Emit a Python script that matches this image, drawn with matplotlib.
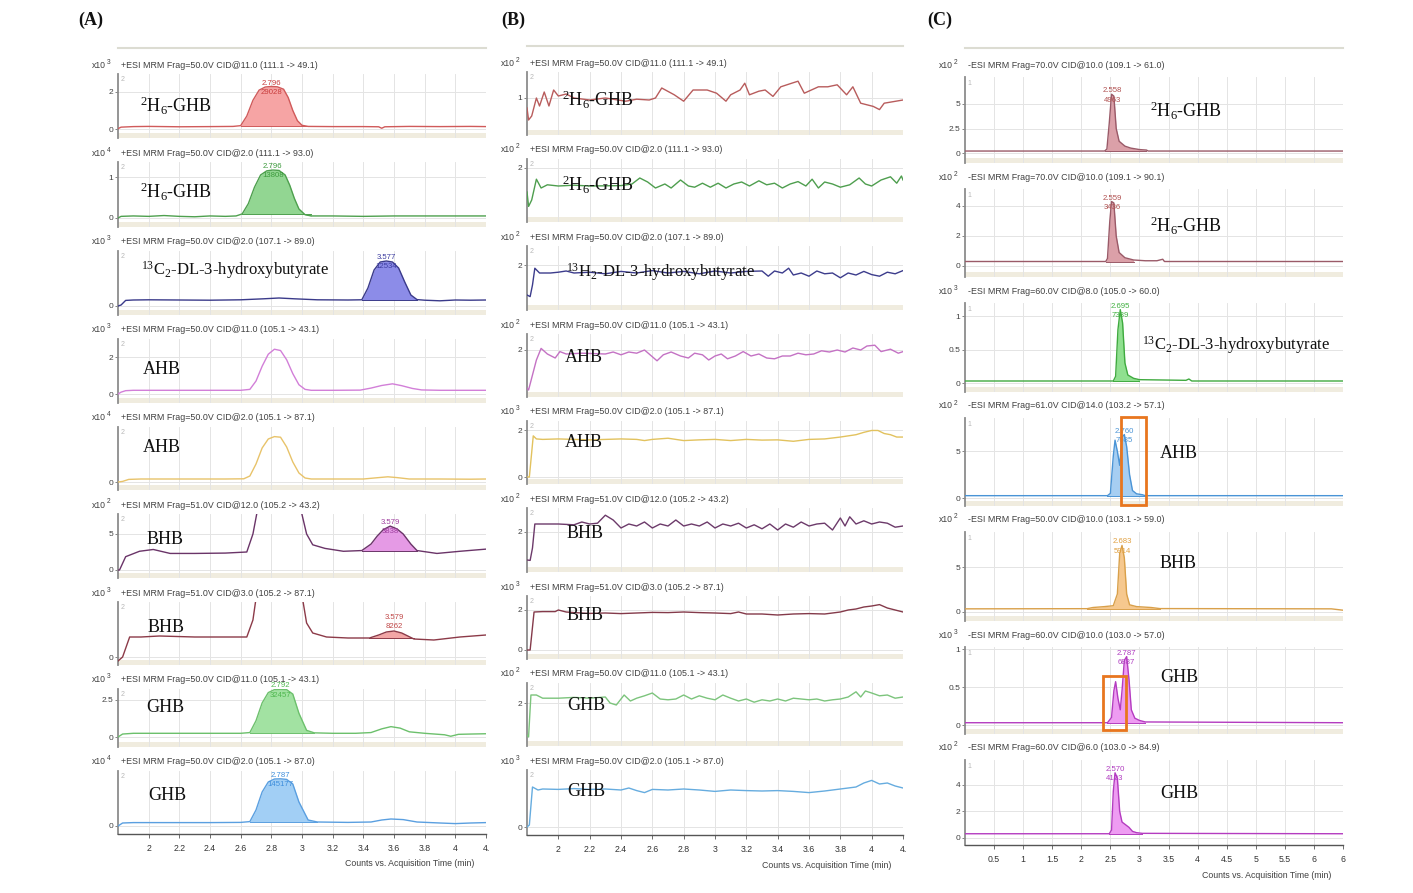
import matplotlib
matplotlib.use('Agg')
import matplotlib.pyplot as plt
from matplotlib.patches import Rectangle
from matplotlib.lines import Line2D
import numpy as np

plt.rcParams['mathtext.fontset'] = 'custom'
plt.rcParams['mathtext.rm'] = 'Liberation Serif'
plt.rcParams['mathtext.it'] = 'Liberation Serif:italic'
plt.rcParams['mathtext.bf'] = 'Liberation Serif:bold'

# ---------------- data ----------------
D6GHB = r'$^{2}$H$_{6}$-GHB'
C13HB = r'$^{13}$C$_{2}$-DL-3-hydroxybutyrate'
H13HB = r'$^{13}$H$_{2}$-DL-3-hydroxybutyrate'

pos_headers = ['+ESI MRM Frag=50.0V CID@11.0 (111.1 -> 49.1)',
               '+ESI MRM Frag=50.0V CID@2.0 (111.1 -> 93.0)',
               '+ESI MRM Frag=50.0V CID@2.0 (107.1 -> 89.0)',
               '+ESI MRM Frag=50.0V CID@11.0 (105.1 -> 43.1)',
               '+ESI MRM Frag=50.0V CID@2.0 (105.1 -> 87.1)',
               '+ESI MRM Frag=51.0V CID@12.0 (105.2 -> 43.2)',
               '+ESI MRM Frag=51.0V CID@3.0 (105.2 -> 87.1)',
               '+ESI MRM Frag=50.0V CID@11.0 (105.1 -> 43.1)',
               '+ESI MRM Frag=50.0V CID@2.0 (105.1 -> 87.0)']
neg_headers = ['-ESI MRM Frag=70.0V CID@10.0 (109.1 -> 61.0)',
               '-ESI MRM Frag=70.0V CID@10.0 (109.1 -> 90.1)',
               '-ESI MRM Frag=60.0V CID@8.0 (105.0 -> 60.0)',
               '-ESI MRM Frag=61.0V CID@14.0 (103.2 -> 57.1)',
               '-ESI MRM Frag=50.0V CID@10.0 (103.1 -> 59.0)',
               '-ESI MRM Frag=60.0V CID@10.0 (103.0 -> 57.0)',
               '-ESI MRM Frag=60.0V CID@6.0 (103.0 -> 84.9)']

a_exp = [3, 4, 3, 3, 4, 2, 3, 3, 4]
b_exp = [2, 2, 2, 2, 3, 2, 3, 2, 3]
c_exp = [2, 2, 3, 2, 2, 3, 2]

a_names = [D6GHB, D6GHB, C13HB, 'AHB', 'AHB', 'BHB', 'BHB', 'GHB', 'GHB']
b_names = [D6GHB, D6GHB, H13HB, 'AHB', 'AHB', 'BHB', 'BHB', 'GHB', 'GHB']
c_names = [D6GHB, D6GHB, C13HB, 'AHB', 'BHB', 'GHB', 'GHB']

# (time min, counts in units of the row's x10^n)
a1 = [(1.80,0.02),(1.82,0.10),(1.90,0.13),(2.00,0.14),(2.20,0.12),(2.40,0.13),(2.55,0.14),(2.60,0.18),(2.64,0.70),(2.68,1.55),(2.72,2.10),(2.76,2.27),(2.80,2.30),(2.84,2.28),(2.88,2.15),(2.91,1.70),(2.94,1.00),(2.97,0.45),(3.00,0.20),(3.04,0.14),(3.20,0.13),(3.40,0.13),(3.50,0.12),(3.52,0.04),(3.54,0.12),(3.70,0.14),(3.90,0.13),(4.10,0.14),(4.20,0.13)]
a2 = [(1.80,0.00),(1.82,0.04),(1.90,0.05),(2.00,0.04),(2.10,0.06),(2.20,0.04),(2.30,0.03),(2.40,0.05),(2.50,0.04),(2.57,0.05),(2.61,0.10),(2.65,0.35),(2.69,0.75),(2.73,1.05),(2.77,1.15),(2.81,1.17),(2.85,1.16),(2.89,1.05),(2.92,0.80),(2.95,0.48),(2.98,0.22),(3.02,0.08),(3.06,0.05),(3.20,0.05),(3.40,0.04),(3.60,0.05),(3.80,0.05),(4.00,0.05),(4.20,0.05)]
a3 = [(1.80,0.00),(1.82,0.05),(1.85,0.28),(1.90,0.30),(2.00,0.31),(2.20,0.30),(2.40,0.29),(2.60,0.31),(2.75,0.36),(2.85,0.40),(2.95,0.36),(3.10,0.31),(3.30,0.30),(3.39,0.31),(3.43,0.90),(3.47,1.80),(3.51,2.20),(3.55,2.25),(3.59,2.20),(3.63,1.90),(3.67,1.20),(3.71,0.55),(3.75,0.32),(3.80,0.29),(3.90,0.26),(4.00,0.30),(4.10,0.29),(4.20,0.30)]
a4 = [(1.80,0.00),(1.82,0.10),(1.85,0.18),(1.90,0.20),(2.00,0.20),(2.20,0.20),(2.40,0.20),(2.60,0.20),(2.66,0.25),(2.70,0.70),(2.74,1.50),(2.78,2.15),(2.82,2.42),(2.86,2.35),(2.90,1.85),(2.94,1.10),(2.98,0.50),(3.02,0.25),(3.06,0.20),(3.20,0.20),(3.38,0.21),(3.45,0.32),(3.52,0.46),(3.59,0.55),(3.65,0.45),(3.72,0.30),(3.78,0.22),(3.90,0.20),(4.00,0.20),(4.10,0.20),(4.20,0.20)]
a5 = [(1.80,0.00),(1.83,0.03),(1.87,0.13),(1.95,0.15),(2.10,0.15),(2.30,0.15),(2.50,0.15),(2.62,0.16),(2.66,0.30),(2.70,0.90),(2.74,1.70),(2.78,2.15),(2.82,2.27),(2.86,2.24),(2.90,1.75),(2.94,1.00),(2.98,0.45),(3.02,0.20),(3.06,0.15),(3.20,0.15),(3.40,0.15),(3.50,0.22),(3.56,0.26),(3.62,0.22),(3.70,0.15),(3.90,0.15),(4.10,0.14),(4.20,0.15)]
a6 = [(1.80,0.00),(1.81,0.00),(1.85,1.85),(1.94,2.60),(2.03,2.85),(2.14,2.30),(2.30,2.30),(2.50,2.35),(2.64,2.50),(2.68,5.00),(2.72,9.50),(2.80,40.0),(2.90,40.0),(2.98,9.50),(3.03,5.00),(3.07,3.50),(3.15,3.00),(3.27,2.60),(3.39,2.70),(3.45,3.60),(3.49,4.70),(3.53,5.60),(3.575,6.10),(3.62,5.70),(3.66,5.00),(3.71,3.60),(3.75,2.70),(3.88,2.30),(4.03,2.60),(4.20,2.90)]
a7 = [(1.80,-0.40),(1.83,0.00),(1.876,2.00),(1.95,2.00),(2.07,2.10),(2.30,2.00),(2.50,2.00),(2.64,2.00),(2.68,3.70),(2.72,8.00),(2.80,30.0),(2.90,30.0),(2.98,8.00),(3.03,3.40),(3.07,2.40),(3.16,2.00),(3.30,1.90),(3.44,1.90),(3.50,2.20),(3.55,2.50),(3.60,2.60),(3.65,2.40),(3.73,1.80),(3.86,1.70),(4.03,2.00),(4.20,2.20)]
a8 = [(1.80,0.00),(1.83,0.20),(1.90,0.25),(2.00,0.25),(2.20,0.25),(2.40,0.25),(2.60,0.25),(2.66,0.30),(2.70,1.10),(2.74,2.30),(2.78,3.00),(2.82,3.20),(2.86,3.22),(2.90,3.20),(2.94,2.90),(2.98,1.60),(3.03,0.45),(3.08,0.28),(3.20,0.25),(3.35,0.25),(3.45,0.30),(3.52,0.55),(3.58,0.70),(3.64,0.60),(3.70,0.35),(3.80,0.25),(3.93,0.15),(3.97,0.05),(4.02,0.18),(4.10,0.20),(4.20,0.22)]
a9 = [(1.80,0.00),(1.83,0.15),(1.90,0.17),(2.00,0.17),(2.20,0.17),(2.40,0.17),(2.60,0.18),(2.66,0.22),(2.70,0.80),(2.74,1.70),(2.78,2.20),(2.82,2.35),(2.86,2.36),(2.90,2.33),(2.94,2.10),(2.98,1.20),(3.04,0.30),(3.10,0.20),(3.30,0.18),(3.45,0.20),(3.52,0.30),(3.58,0.35),(3.66,0.32),(3.75,0.20),(3.90,0.15),(4.00,0.12),(4.10,0.15),(4.20,0.17)]

b1 = [(1.80,0.75),(1.81,0.45),(1.83,0.55),(1.86,1.00),(1.88,0.80),(1.91,1.15),(1.94,0.80),(1.97,1.20),(2.00,1.05),(2.05,1.10),(2.10,1.00),(2.20,0.95),(2.30,1.00),(2.43,0.92),(2.50,0.97),(2.58,0.95),(2.62,1.00),(2.66,1.25),(2.74,1.08),(2.80,0.92),(2.86,1.20),(2.95,1.20),(3.01,1.12),(3.07,0.92),(3.10,1.08),(3.16,1.20),(3.19,1.37),(3.22,1.08),(3.28,1.17),(3.32,1.20),(3.37,1.04),(3.42,1.28),(3.49,1.37),(3.53,1.42),(3.57,1.12),(3.66,1.28),(3.72,1.28),(3.78,1.33),(3.84,1.08),(3.88,1.28),(3.93,0.87),(3.97,0.83),(4.01,0.79),(4.05,0.71),(4.08,0.87),(4.20,0.95)]
b2 = [(1.80,1.40),(1.81,1.04),(1.83,1.20),(1.86,1.72),(1.89,1.50),(1.93,1.58),(2.00,1.55),(2.10,1.57),(2.20,1.55),(2.40,1.56),(2.47,1.60),(2.52,1.75),(2.57,1.65),(2.62,1.50),(2.68,1.60),(2.72,1.50),(2.78,1.70),(2.83,1.55),(2.87,1.52),(2.92,1.62),(2.97,1.52),(3.02,1.62),(3.07,1.50),(3.12,1.60),(3.17,1.65),(3.22,1.55),(3.28,1.68),(3.33,1.58),(3.38,1.62),(3.43,1.50),(3.48,1.60),(3.53,1.66),(3.58,1.55),(3.62,1.72),(3.66,1.50),(3.70,1.65),(3.75,1.60),(3.80,1.52),(3.86,1.58),(3.92,1.75),(3.96,1.60),(4.00,1.55),(4.06,1.70),(4.12,1.78),(4.16,1.62),(4.19,1.80),(4.20,1.70)]
b3 = [(1.80,1.25),(1.82,1.21),(1.835,1.50),(1.85,1.92),(1.88,1.80),(1.95,1.80),(2.00,1.82),(2.05,1.85),(2.10,1.80),(2.20,1.82),(2.30,1.78),(2.40,1.84),(2.50,1.80),(2.60,1.86),(2.70,1.80),(2.80,1.84),(2.90,1.78),(3.00,1.85),(3.10,1.80),(3.20,1.84),(3.30,1.85),(3.34,1.72),(3.38,1.85),(3.43,1.80),(3.47,1.92),(3.50,1.75),(3.55,1.80),(3.60,1.72),(3.65,1.85),(3.70,1.78),(3.75,1.80),(3.80,1.68),(3.85,1.80),(3.90,1.75),(3.95,1.84),(4.00,1.76),(4.05,1.72),(4.10,1.82),(4.15,1.78),(4.20,1.86)]
b4 = [(1.80,1.05),(1.81,1.00),(1.86,1.75),(1.89,2.04),(1.93,1.90),(1.98,1.80),(2.01,1.96),(2.05,1.90),(2.15,1.92),(2.30,1.90),(2.35,1.95),(2.40,1.88),(2.45,1.95),(2.50,1.92),(2.55,2.00),(2.63,1.73),(2.67,1.88),(2.72,1.95),(2.78,1.85),(2.83,1.80),(2.87,1.92),(2.92,1.88),(2.96,1.75),(3.00,1.85),(3.04,1.90),(3.08,1.78),(3.13,1.85),(3.18,1.96),(3.23,1.85),(3.28,1.90),(3.33,1.80),(3.38,1.78),(3.43,1.85),(3.48,1.85),(3.53,1.92),(3.58,1.88),(3.63,1.90),(3.68,1.98),(3.73,1.95),(3.78,2.00),(3.83,1.95),(3.88,2.05),(3.93,2.00),(3.97,2.10),(4.02,2.12),(4.06,1.96),(4.12,2.02),(4.17,1.92),(4.20,1.96)]
b5 = [(1.80,0.00),(1.815,0.00),(1.84,1.75),(1.86,1.62),(1.90,1.60),(2.00,1.62),(2.10,1.60),(2.20,1.58),(2.30,1.60),(2.40,1.62),(2.50,1.60),(2.55,1.55),(2.60,1.60),(2.70,1.65),(2.75,1.60),(2.80,1.55),(2.90,1.58),(3.00,1.60),(3.10,1.55),(3.20,1.60),(3.30,1.57),(3.40,1.58),(3.50,1.52),(3.60,1.60),(3.70,1.62),(3.80,1.70),(3.90,1.80),(3.95,1.90),(4.00,1.98),(4.04,1.98),(4.08,1.85),(4.12,1.80),(4.16,1.70),(4.20,1.70)]
b6 = [(1.80,1.30),(1.82,1.29),(1.835,1.60),(1.85,2.20),(1.90,2.20),(2.00,2.20),(2.10,2.18),(2.15,2.25),(2.20,2.20),(2.25,2.22),(2.30,2.42),(2.35,2.30),(2.40,2.10),(2.45,2.20),(2.50,2.15),(2.55,2.25),(2.60,2.10),(2.65,2.20),(2.70,2.15),(2.75,2.30),(2.80,2.15),(2.85,2.20),(2.90,2.15),(2.95,2.25),(3.00,2.10),(3.05,2.20),(3.10,2.15),(3.15,2.22),(3.20,2.10),(3.25,2.18),(3.30,2.08),(3.35,2.20),(3.40,2.05),(3.45,2.20),(3.50,2.12),(3.55,2.25),(3.60,2.15),(3.65,2.20),(3.70,2.22),(3.75,2.05),(3.80,2.35),(3.83,2.15),(3.86,2.38),(3.90,2.20),(3.95,2.28),(4.00,2.20),(4.05,2.25),(4.10,2.22),(4.15,2.12),(4.20,2.15)]
b7 = [(1.80,0.00),(1.82,0.00),(1.845,1.90),(1.90,1.92),(1.98,1.92),(2.00,2.00),(2.05,1.90),(2.10,1.87),(2.20,1.83),(2.30,1.85),(2.40,1.82),(2.50,1.85),(2.60,1.88),(2.70,1.87),(2.80,1.90),(2.90,1.87),(3.00,1.85),(3.10,1.82),(3.15,1.90),(3.20,1.80),(3.30,1.80),(3.40,1.75),(3.50,1.80),(3.60,1.82),(3.70,1.80),(3.80,1.90),(3.85,2.00),(3.90,2.05),(3.95,2.15),(4.00,2.20),(4.05,2.27),(4.10,2.10),(4.15,2.00),(4.20,1.90)]
b8 = [(1.80,1.20),(1.81,1.15),(1.825,2.20),(1.86,2.20),(1.90,2.12),(2.00,2.12),(2.10,2.14),(2.20,2.12),(2.30,2.15),(2.33,2.00),(2.37,1.95),(2.42,2.20),(2.46,2.05),(2.50,2.12),(2.55,2.18),(2.60,2.25),(2.65,2.10),(2.70,2.08),(2.75,2.10),(2.80,2.20),(2.85,2.10),(2.90,2.18),(2.95,2.12),(3.00,2.08),(3.05,2.20),(3.10,2.12),(3.15,2.05),(3.20,2.10),(3.25,2.02),(3.30,2.08),(3.35,2.05),(3.40,2.10),(3.45,2.05),(3.50,2.12),(3.55,2.10),(3.60,2.08),(3.65,2.10),(3.70,2.05),(3.75,2.08),(3.80,2.10),(3.85,2.15),(3.90,2.28),(3.93,2.15),(3.96,2.30),(4.00,2.25),(4.05,2.18),(4.10,2.20),(4.15,2.12),(4.20,2.15)]
b9 = [(1.80,0.00),(1.815,0.10),(1.835,2.00),(1.87,1.85),(1.90,1.90),(2.00,1.88),(2.10,1.92),(2.20,1.88),(2.30,1.90),(2.40,1.85),(2.45,1.95),(2.50,1.82),(2.55,1.72),(2.60,1.88),(2.70,1.85),(2.80,1.90),(2.90,1.85),(3.00,1.78),(3.10,1.85),(3.20,1.82),(3.30,1.80),(3.40,1.82),(3.50,1.78),(3.60,1.72),(3.70,1.80),(3.80,1.90),(3.90,2.00),(3.95,2.20),(4.00,2.33),(4.05,2.15),(4.10,2.20),(4.15,2.05),(4.20,1.95)]

c1 = [(0.00,0.20),(2.40,0.20),(2.44,0.40),(2.48,3.00),(2.52,6.00),(2.56,5.80),(2.60,2.50),(2.65,1.20),(2.75,0.70),(2.85,0.50),(3.00,0.35),(3.12,0.30),(3.15,0.20),(6.50,0.20)]
c2 = [(0.00,0.30),(2.42,0.30),(2.45,0.50),(2.49,3.00),(2.52,4.30),(2.56,4.20),(2.60,2.00),(2.65,0.90),(2.75,0.55),(2.90,0.40),(3.10,0.35),(3.30,0.35),(3.40,0.45),(3.43,0.30),(6.50,0.30)]
c3 = [(0.00,0.03),(2.55,0.03),(2.59,0.10),(2.63,0.80),(2.67,1.10),(2.71,0.90),(2.75,0.30),(2.80,0.12),(2.90,0.07),(3.00,0.05),(3.80,0.04),(3.85,0.06),(3.90,0.03),(6.50,0.03)]
c4 = [(0.00,0.25),(2.45,0.25),(2.50,0.50),(2.55,4.50),(2.58,6.20),(2.62,5.00),(2.66,3.50),(2.70,6.50),(2.74,6.80),(2.78,5.50),(2.83,2.50),(2.88,0.80),(2.95,0.45),(3.05,0.35),(3.10,0.25),(6.50,0.25)]
c5 = [(0.00,0.35),(2.10,0.37),(2.20,0.50),(2.40,0.60),(2.55,0.70),(2.62,2.00),(2.66,6.50),(2.70,7.40),(2.74,6.00),(2.78,2.00),(2.83,0.80),(2.95,0.60),(3.20,0.50),(3.35,0.38),(6.30,0.35),(6.50,0.20)]
c6 = [(0.00,0.03),(2.45,0.03),(2.52,0.10),(2.56,0.45),(2.59,0.57),(2.63,0.35),(2.67,0.20),(2.70,0.45),(2.74,0.85),(2.78,0.90),(2.82,0.60),(2.86,0.20),(2.92,0.09),(3.00,0.06),(3.10,0.04),(6.50,0.03)]
c7 = [(0.00,0.32),(2.48,0.32),(2.52,0.60),(2.55,3.50),(2.58,4.90),(2.62,4.50),(2.66,2.00),(2.70,1.20),(2.76,1.00),(2.82,0.80),(2.88,0.50),(2.95,0.40),(3.05,0.35),(6.50,0.32)]

# integrated peak windows (start, end) and apex labels (time, height, RT, area)
a_win = [(2.60, 3.04), (2.61, 3.06), (3.39, 3.75), None, None, (3.39, 3.75), (3.44, 3.73), (2.66, 3.08), (2.66, 3.10)]
a_apex = [(2.80, 2.30, '2.796', '29028'), (2.81, 1.17, '2.796', '13808'), (3.55, 2.25, '3.577', '12534'), None, None,
          (3.575, 6.10, '3.579', '3838'), (3.60, 3.6, '3.579', '8262'), (2.86, 3.22, '2.792', '32457'),
          (2.86, 2.36, '2.787', '145177')]
c_win = [(2.40, 3.12), (2.42, 2.90), (2.55, 3.00), (2.45, 3.10), (2.10, 3.35), (2.45, 3.10), (2.48, 3.05)]
c_apex = [(2.53, 6.00, '2.558', '4963'), (2.53, 4.30, '2.559', '3436'), (2.67, 1.10, '2.695', '7389'),
          (2.74, 6.80, '2.760', '7685'), (2.70, 7.40, '2.683', '5914'), (2.78, 0.90, '2.787', '6887'),
          (2.58, 4.90, '2.570', '4123')]
c_boxes = [None, None, None, (2.69, 3.11, -0.75, 8.7), None, (2.38, 2.77, -0.07, 0.64), None]

ab_xticks = [2, 2.2, 2.4, 2.6, 2.8, 3, 3.2, 3.4, 3.6, 3.8, 4, 4.2]
ab_xlabels = ['2', '2.2', '2.4', '2.6', '2.8', '3', '3.2', '3.4', '3.6', '3.8', '4', '4.']
c_xticks = [0.5, 1, 1.5, 2, 2.5, 3, 3.5, 4, 4.5, 5, 5.5, 6, 6.5]
c_xlabels = ['0.5', '1', '1.5', '2', '2.5', '3', '3.5', '4', '4.5', '5', '5.5', '6', '6']

# ---------------- styles / layout (pixels) ----------------
a_line = ['#d05a5a', '#4ea04e', '#3a3a8a', '#d27fd8', '#e8c36a', '#6a3468', '#8c3a48', '#6cc06c', '#5a9fe0']
a_fill = ['#f6a4a4', '#92d692', '#8c8ce8', None, None, '#e59ae5', '#f2a6a6', '#a2e2a2', '#a2cff5']
a_lab = ['#c83c3c', '#3c9a3c', '#3c3ca0', None, None, '#a040a0', '#c04848', '#50b850', '#3f8fdc']
b_line = ['#b85c5c', '#4e9e4e', '#3c3c8c', '#c472c4', '#e2c25e', '#6c3a6a', '#843a4a', '#7cc47c', '#66acdf']
c_line = ['#9a5a68', '#9a5a68', '#3faa3f', '#4a94d6', '#d9a04a', '#b43cc0', '#b43cc0']
c_fill = ['#dba0a8', '#dba0a8', '#8fe08f', '#a6cef2', '#f6c88e', '#ee9cf2', '#ee9cf2']
c_lab = ['#b05050', '#b05050', '#40b040', '#4a94d6', '#e0a040', '#b03cc0', '#b03cc0']

# (reference value, its pixel row, pixels per unit, y ticks)
a_ref = [(0, 129, 18.5, [0, 2]), (0, 218, 41, [0, 1]), (0, 306, 20, [0]), (0, 394, 18.5, [0, 2]),
         (0, 482, 20, [0]), (0, 570, 7.2, [0, 5]), (0, 657, 10, [0]), (0, 737, 14.8, [0, 2.5]), (0, 826, 20, [0])]
b_ref = [(1, 98, 40, [1]), (2, 168, 40, [2]), (2, 265, 40, [2]), (2, 350, 40, [2]), (0, 477, 23.5, [0, 2]),
         (2, 532, 40, [2]), (0, 650, 20, [0, 2]), (2, 703, 40, [2]), (0, 827, 20, [0])]
c_ref = [(0, 153, 9.8, [0, 2.5, 5]), (0, 266, 15, [0, 2, 4]), (0, 383, 66.7, [0, 0.5, 1]), (0, 498, 9.33, [0, 5]),
         (0, 612, 9, [0, 5]), (0, 725, 76, [0, 0.5, 1]), (0, 838, 13.3, [0, 2, 4])]

a_hy = [65, 153, 242, 330, 418, 505, 593, 680, 762]
b_hy = [63, 150, 237, 325, 412, 499, 587, 674, 761]
c_hy = [65, 177, 291, 406, 520, 635, 748]
a_namepos = [(140, 106), (140, 192), (141, 270), (143, 370), (143, 448), (147, 540), (148, 627), (146, 707), (148, 795)]
b_namepos = [(562, 100), (562, 185), (566, 272), (565, 358), (565, 442), (567, 533), (567, 616), (567, 705), (567, 792)]
c_namepos = [(1150, 111), (1150, 226), (1142, 345), (1160, 453), (1160, 563), (1160, 677), (1160, 793)]

W, H = 1413, 893
fig = plt.figure(figsize=(W / 100, H / 100), dpi=100)
fig.patch.set_facecolor('white')
SANS = 'Liberation Sans'
SERIF = 'Liberation Serif'


def fx(x):
    return x / W


def fy(y):
    return 1 - y / H


def draw_column(left, right, hys, last_bottom, pad_top, gap, refs, exps, headers, traces, lines,
                fills, wins, apexes, labcols, names, namepos, xlim, xticks, xlabels, tag, boxes=None):
    n = len(hys)
    # top frame line of the panel
    fig.add_artist(Line2D([fx(left), fx(right)], [fy(hys[0] - 17)] * 2, color='#dcdcd2', lw=1.5))
    for i in range(n):
        hy = hys[i]
        top = hy + pad_top
        bottom = hys[i + 1] - gap if i < n - 1 else last_bottom
        ax = fig.add_axes([fx(left), fy(bottom), (right - left) / W, (bottom - top) / H])
        rv, rp, ppu, yt = refs[i]
        ax.set_ylim(rv - (bottom - rp) / ppu, rv + (rp - top) / ppu)
        ax.set_xlim(*xlim)
        t, v = np.array(traces[i]).T
        if fills is not None and fills[i]:
            t0, t1 = wins[i]
            m = (t >= t0) & (t <= t1)
            base = v[m][0]
            ax.fill_between(t[m], v[m], base, color=fills[i], lw=0, zorder=2)
            ax.plot([t0, t1], [base, base], color=lines[i], lw=0.7, zorder=3)
        ax.plot(t, v, color=lines[i], lw=1.0, zorder=3)
        if apexes is not None and apexes[i]:
            ta, va_, rt, area = apexes[i]
            ax.annotate(rt + '\n' + area, (ta, va_), xytext=(0, 5), textcoords='offset points',
                        ha='center', va='top', fontsize=5.6, color=labcols[i], family=SANS,
                        linespacing=1.45, zorder=4)
        if boxes is not None and boxes[i]:
            b0, b1, y0, y1 = boxes[i]
            ax.add_patch(Rectangle((b0, y0), b1 - b0, y1 - y0, fill=False, ec='#e8761e', lw=2.0,
                                   clip_on=False, zorder=5))
        ax.set_xticks(xticks)
        ax.set_yticks(yt)
        ax.set_yticklabels(['%g' % y for y in yt])
        ax.grid(True, color='#e4e4e4', lw=0.7)
        ax.set_axisbelow(True)
        ax.tick_params(axis='y', length=2.5, width=0.6, color='#707070', labelsize=6,
                       labelcolor='#404040', pad=1)
        for s in ('top', 'right'):
            ax.spines[s].set_visible(False)
        ax.spines['left'].set_color('#8c8c8c')
        ax.spines['left'].set_linewidth(1.3)
        ax.text(0.006, 0.97, tag, transform=ax.transAxes, fontsize=5, color='#b8b8b8',
                va='top', ha='left', family=SANS)
        if i < n - 1:
            ax.spines['bottom'].set_visible(False)
            ax.tick_params(axis='x', length=0, labelbottom=False)
            ax.add_patch(Rectangle((0, 0), 1, 5.0 / (bottom - top), transform=ax.transAxes,
                                   color='#f0ecdf', lw=0, zorder=0))
        else:
            ax.spines['bottom'].set_color('#555555')
            ax.spines['bottom'].set_linewidth(1.0)
            ax.set_xticklabels(xlabels)
            ax.tick_params(axis='x', length=3, width=0.6, color='#555555', labelsize=6.3,
                           labelcolor='#333333', pad=4)
            for lab in ax.get_xticklabels():
                lab.set_family(SANS)
            fig.text(fx(right - 12), fy(bottom + 30), 'Counts vs. Acquisition Time (min)',
                     ha='right', va='center', fontsize=6.3, color='#404040', family=SANS)
        for lab in ax.get_yticklabels():
            lab.set_family(SANS)
        # header line above the trace
        fig.text(fx(left - 12), fy(hy), 'x10', ha='right', va='center', fontsize=6.2,
                 color='#404040', family=SANS)
        fig.text(fx(left - 11), fy(hy - 3), str(exps[i]), ha='left', va='center', fontsize=4.8,
                 color='#404040', family=SANS)
        fig.text(fx(left + 3), fy(hy), headers[i], ha='left', va='center', fontsize=6.4,
                 color='#404040', family=SANS)
        nx, ny = namepos[i]
        size = 12 if 'hydroxy' in names[i] else 13
        fig.text(fx(nx), fy(ny), names[i], ha='left', va='center', fontsize=size,
                 color='#111111', family=SERIF)


draw_column(118, 486, a_hy, 834, 9, 15, a_ref, a_exp, pos_headers,
            [a1, a2, a3, a4, a5, a6, a7, a8, a9], a_line, a_fill, a_win, a_apex, a_lab,
            a_names, a_namepos, (1.8, 4.2), ab_xticks, ab_xlabels, '2')
draw_column(527, 903, b_hy, 835, 9, 15, b_ref, b_exp, pos_headers,
            [b1, b2, b3, b4, b5, b6, b7, b8, b9], b_line, None, None, None, None,
            b_names, b_namepos, (1.8, 4.2), ab_xticks, ab_xlabels, '2')
draw_column(965, 1343, c_hy, 845, 12, 14, c_ref, c_exp, neg_headers,
            [c1, c2, c3, c4, c5, c6, c7], c_line, c_fill, c_win, c_apex, c_lab,
            c_names, c_namepos, (0, 6.5), c_xticks, c_xlabels, '1', boxes=c_boxes)

for lab, x in (('(A)', 91), ('(B)', 513), ('(C)', 940)):
    fig.text(fx(x), fy(20), lab, ha='center', va='center', fontsize=13, fontweight='bold',
             family=SERIF, color='#111111')

fig.savefig('out.png', dpi=100, facecolor='white')
